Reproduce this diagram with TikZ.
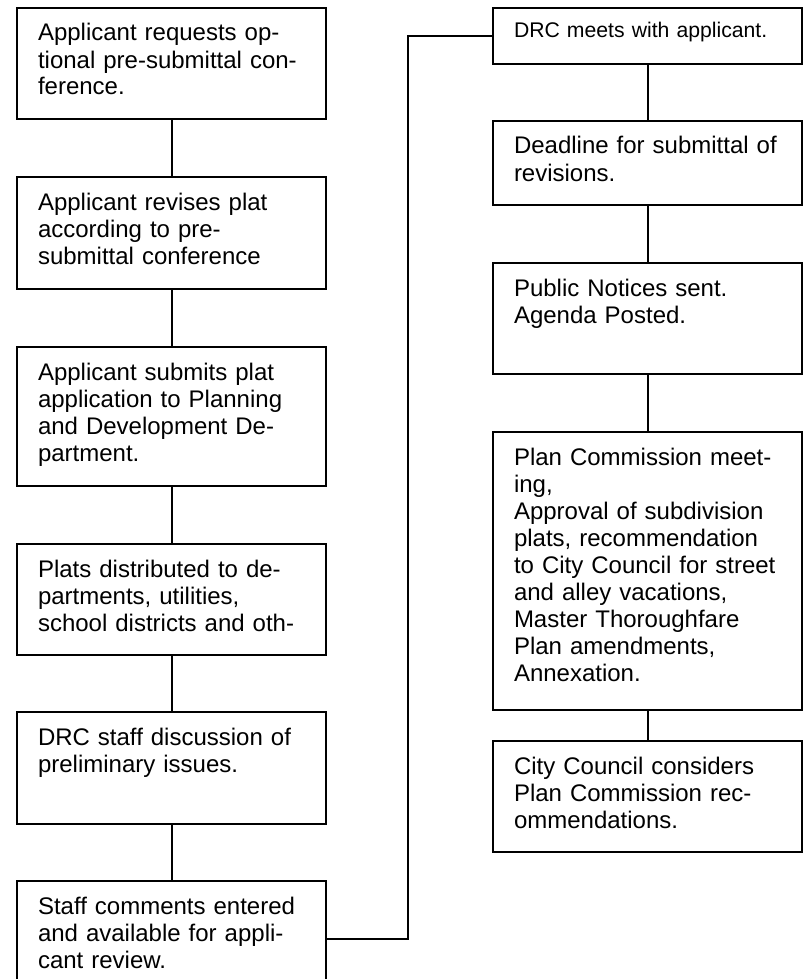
\documentclass[tikz,border=0pt]{standalone}
\usepackage{fontspec}
\setmainfont{Liberation Sans}
\usetikzlibrary{positioning}

\begin{document}
\begin{tikzpicture}[
  x=0.5pt, y=-0.5pt,
  stepbox/.style={rectangle, draw, line width=1pt, text width=133.5pt, inner xsep=10.5pt,
    inner ysep=0pt, align=left, text height=16.5pt, text depth=#1,
    font=\fontsize{12}{13.5}\selectfont},
  node distance=28pt
]
\useasboundingbox (0,0) rectangle (806,979);

% left column
\node[stepbox=39pt, anchor=north west] (request) at (16,7) {Applicant requests op-\\tional pre-submittal con-\\ference.};
\node[stepbox=39.5pt, below=of request] (revise) {Applicant revises plat\\according to pre-\\submittal conference};
\node[stepbox=53pt, below=of revise] (submit) {Applicant submits plat\\application to Planning\\and Development De-\\partment.};
\node[stepbox=39pt, below=of submit] (distrib) {Plats distributed to de-\\partments, utilities,\\school districts and oth-};
\node[stepbox=39.5pt, below=27.5pt of distrib] (discuss) {DRC staff discussion of\\preliminary issues.};
\node[stepbox=41pt, below=27.5pt of discuss] (comments) {Staff comments entered\\and available for appli-\\cant review.};

% right column
\node[stepbox=13pt, anchor=north west, text height=15pt, font=\fontsize{10.6}{12.5}\selectfont] (meet) at (492,7) {DRC meets with applicant.};
\node[stepbox=25.5pt, below=27.5pt of meet] (deadline) {Deadline for submittal of\\revisions.};
\node[stepbox=39pt, below=of deadline] (notices) {Public Notices sent.\\Agenda Posted.};
\node[stepbox=122.5pt, below=of notices] (plancom) {Plan Commission meet-\\ing,\\Approval of subdivision\\plats, recommendation\\to City Council for street\\and alley vacations,\\Master Thoroughfare\\Plan amendments,\\Annexation.};
\node[stepbox=39pt, below=14.5pt of plancom] (council) {City Council considers\\Plan Commission rec-\\ommendations.};

\coordinate (turn) at (408,35);

\draw[line width=1pt] (request) -- (revise);
\draw[line width=1pt] (revise) -- (submit);
\draw[line width=1pt] (submit) -- (distrib);
\draw[line width=1pt] (distrib) -- (discuss);
\draw[line width=1pt] (discuss) -- (comments);
\draw[line width=1pt] (comments.east) -- (comments.east -| turn) |- (meet.west);
\draw[line width=1pt] (meet) -- (deadline);
\draw[line width=1pt] (deadline) -- (notices);
\draw[line width=1pt] (notices) -- (plancom);
\draw[line width=1pt] (plancom) -- (council);
\end{tikzpicture}
\end{document}
